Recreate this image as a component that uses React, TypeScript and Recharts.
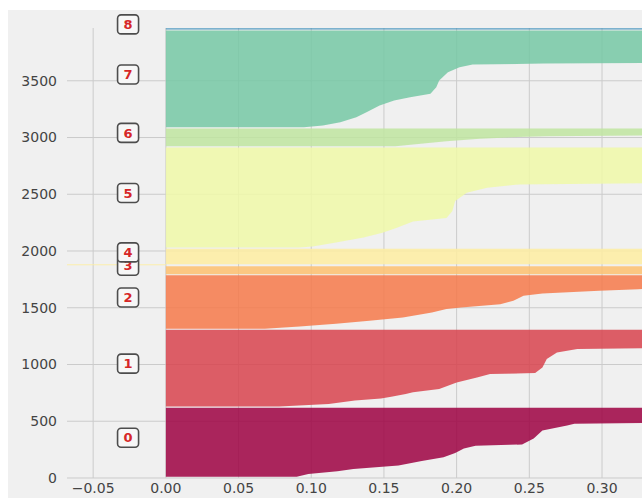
import React from "react";
import { AreaChart, Area, XAxis, YAxis, CartesianGrid, ReferenceDot } from "recharts";

// silhouette profile per cluster: [sample position, silhouette value], sorted ascending
const cluster0 = [[10, 0.09], [35, 0.098], [60, 0.118], [80, 0.129], [110, 0.16], [150, 0.176], [183, 0.191], [220, 0.199], [259, 0.205], [285, 0.213], [295, 0.245], [347, 0.253], [418, 0.259], [462, 0.276], [478, 0.281], [490, 0.36], [560, 0.4], [620, 0.45]];
const cluster1 = [[630, 0.078], [652, 0.112], [682, 0.13], [700, 0.148], [715, 0.155], [740, 0.165], [755, 0.17], [784, 0.188], [842, 0.2], [886, 0.214], [916, 0.223], [925, 0.254], [974, 0.259], [1048, 0.262], [1106, 0.269], [1136, 0.283], [1150, 0.36], [1230, 0.4], [1306, 0.45]];
const cluster2 = [[1316, 0.068], [1334, 0.092], [1360, 0.117], [1386, 0.14], [1415, 0.163], [1458, 0.183], [1488, 0.193], [1502, 0.203], [1532, 0.23], [1561, 0.239], [1605, 0.246], [1625, 0.259], [1649, 0.298], [1664, 0.325], [1680, 0.36], [1786, 0.42]];
const cluster3 = [[1796, 0.36], [1865, 0.42]];
const cluster4 = [[1875, -0.07], [1883, -0.07], [1884, 0.35], [2021, 0.45]];
const cluster5 = [[2031, 0.092], [2040, 0.101], [2075, 0.117], [2118, 0.136], [2160, 0.149], [2200, 0.158], [2260, 0.17], [2290, 0.193], [2350, 0.197], [2440, 0.199], [2513, 0.207], [2557, 0.221], [2587, 0.243], [2600, 0.36], [2750, 0.4], [2913, 0.45]];
const cluster6 = [[2923, 0.158], [2939, 0.17], [2968, 0.193], [2989, 0.216], [3003, 0.239], [3012, 0.262], [3018, 0.327], [3025, 0.38], [3080, 0.45]];
const cluster7 = [[3090, 0.095], [3106, 0.108], [3135, 0.12], [3179, 0.131], [3223, 0.138], [3282, 0.147], [3326, 0.157], [3355, 0.168], [3385, 0.182], [3443, 0.186], [3502, 0.188], [3575, 0.194], [3619, 0.202], [3643, 0.211], [3652, 0.26], [3658, 0.36], [3800, 0.42], [3942, 0.5]];
const cluster8 = [[3952, 0.5], [3962, 0.55]];

const CLUSTERS = [cluster0, cluster1, cluster2, cluster3, cluster4, cluster5, cluster6, cluster7, cluster8];
const COLORS = ["#9e0142", "#d8434e", "#f6794a", "#fdbf6f", "#feeda1", "#f0f9a8", "#bfe5a0", "#75c8a5", "#388eba"];

const X_TICKS = [-0.05, 0, 0.05, 0.1, 0.15, 0.2, 0.25, 0.3];
const Y_TICKS = [0, 500, 1000, 1500, 2000, 2500, 3000, 3500];
const X_DOMAIN = [-0.068, 0.3275];
const Y_DOMAIN = [0, 3965];
const LABEL_X = -0.026;

const rows = CLUSTERS.flatMap((pts, i) => pts.map(([y, s]) => ({ y, [`c${i}`]: s })));

const tickStyle = { fill: "#444", fontSize: 14, fontFamily: "DejaVu Sans" };

// grid only at the tick values (no lines on the plot edges)
const vGrid = ({ offset }: any) =>
  X_TICKS.map((t) => offset.left + ((t - X_DOMAIN[0]) / (X_DOMAIN[1] - X_DOMAIN[0])) * offset.width);
const hGrid = ({ offset }: any) =>
  Y_TICKS.map((t) => offset.top + (1 - (t - Y_DOMAIN[0]) / (Y_DOMAIN[1] - Y_DOMAIN[0])) * offset.height);

function ClusterTag(props: any) {
  const { cx, cy, label } = props;
  const y = cy - 4.5;
  return (
    <g>
      <rect x={cx - 10.5} y={y - 9.5} width={21} height={19} rx={3.5} fill="#f7f7f7" stroke="#4d4d4d" strokeWidth={1.6} />
      <text x={cx} y={y} dy="0.36em" textAnchor="middle" fontSize={13} fontWeight="bold" fill="#d62728" fontFamily="DejaVu Sans">
        {label}
      </text>
    </g>
  );
}

export default function App() {
  return (
    <div style={{ position: "fixed", left: 8, top: 10, width: 634, height: 488, background: "#f0f0f0", overflow: "hidden" }}>
      <AreaChart width={634} height={488} data={rows} layout="vertical" margin={{ top: 18, right: 0, bottom: 0, left: 0 }}>
        <CartesianGrid stroke="#cbcbcb" strokeWidth={1} verticalCoordinatesGenerator={vGrid} horizontalCoordinatesGenerator={hGrid} />
        <XAxis
          type="number"
          domain={X_DOMAIN}
          ticks={X_TICKS}
          interval={0}
          allowDataOverflow
          axisLine={false}
          tickLine={false}
          tickSize={0}
          tickMargin={5}
          height={20}
          tick={tickStyle}
          tickFormatter={(v: number) => v.toFixed(2).replace("-", "\u2212")}
        />
        <YAxis
          type="number"
          dataKey="y"
          domain={Y_DOMAIN}
          ticks={Y_TICKS}
          interval={0}
          reversed
          allowDataOverflow
          axisLine={false}
          tickLine={false}
          tickSize={0}
          tickMargin={10}
          width={59}
          tick={tickStyle}
        />
        {CLUSTERS.map((_, i) => (
          <Area
            key={i}
            type="linear"
            dataKey={`c${i}`}
            fill={COLORS[i]}
            fillOpacity={0.85}
            stroke="none"
            dot={false}
            activeDot={false}
            isAnimationActive={false}
          />
        ))}
        {CLUSTERS.map((pts, i) => (
          <ReferenceDot
            key={`tag${i}`}
            x={LABEL_X}
            y={(pts[0][0] + pts[pts.length - 1][0]) / 2}
            r={1}
            ifOverflow="visible"
            shape={(p: any) => <ClusterTag {...p} label={String(i)} />}
          />
        ))}
      </AreaChart>
    </div>
  );
}
